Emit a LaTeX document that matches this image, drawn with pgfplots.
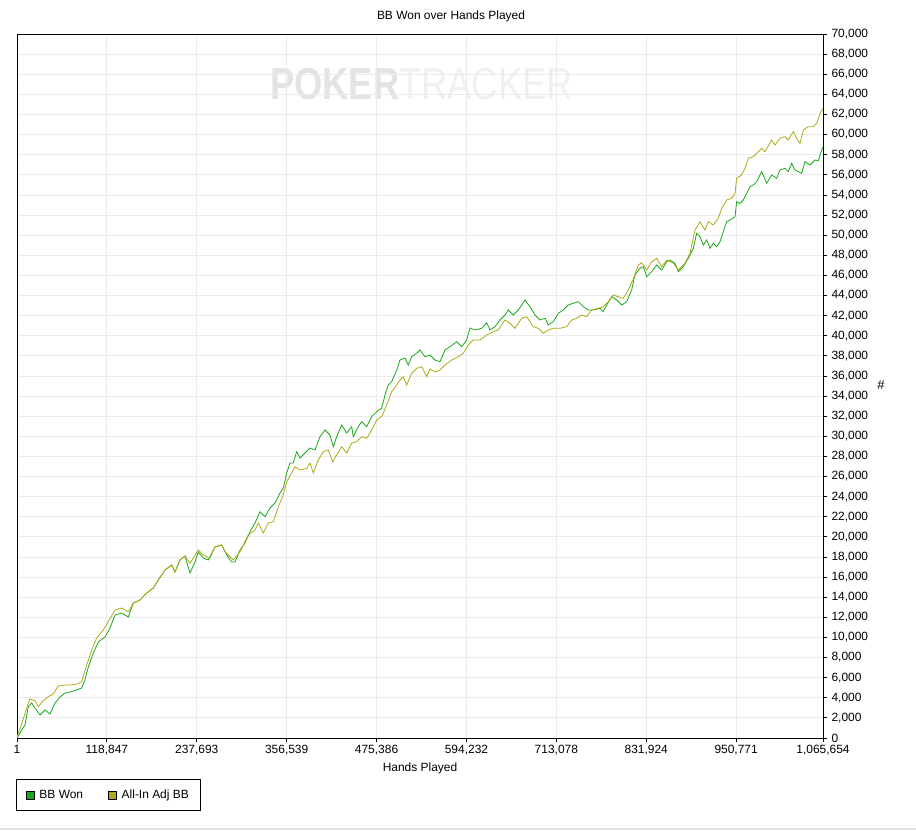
\documentclass[border=0pt]{standalone}
\usepackage{pgfplots}
\usepackage{pgfplotstable}
\pgfplotsset{compat=1.18}
\usetikzlibrary{calc}
\usepackage{fontspec}
\setmainfont{Liberation Sans}
\definecolor{bbwon}{RGB}{25,168,25}
\definecolor{allin}{RGB}{176,170,24}
\definecolor{gridc}{RGB}{235,235,235}

\pgfplotstableread{
hands bb
1 0
6214 795
10577 1293
14940 3115
19435 3480
23798 2983
30408 2287
37019 2784
43629 2386
50240 3480
56850 4077
63461 4475
70071 4574
78929 4773
85540 4972
89903 5767
94266 7060
100877 8452
107487 9545
116345 10043
122956 10937
129567 12230
138425 12429
147151 12031
153762 13423
162620 13721
171478 14417
180204 14915
186815 15710
195673 16704
204531 17201
208894 16505
215504 17699
222115 18096
228725 16406
235336 17500
239699 18494
246310 17897
252920 17699
261778 18991
270636 19190
277247 18196
283857 17500
288220 17500
294831 18693
301441 19389
308052 20512
314662 21377
321273 22501
327883 22004
334494 22869
341104 23366
347715 24360
352078 24858
356573 26349
360936 27343
365299 27343
369795 28467
374158 27840
380768 28338
387379 28835
393989 28636
400600 29958
407210 30624
413821 30127
418184 28964
422679 29958
429289 31122
435900 30326
442510 30953
444626 29958
451237 30953
455732 31450
462342 30953
468953 31947
475563 32444
482174 32812
486537 34104
490900 35101
495395 35427
502005 36590
506368 37585
512979 37784
517342 37087
521837 37913
528447 38251
532810 38579
539421 37913
546031 38082
552642 37585
559252 37416
565863 38579
572473 38907
581331 39404
587942 38907
594552 39573
598915 40766
605526 40567
614384 40737
620994 41294
625357 40567
631968 40895
638578 41562
645189 42059
649552 42556
656162 42059
662773 42556
667268 43054
671631 43550
678242 42884
684852 42059
691463 41562
698073 41731
702436 41064
709047 41393
715657 42228
722268 42556
728878 43054
735489 43222
742099 43381
748710 42884
755320 42556
761931 42556
770789 42725
775152 42388
779647 43054
786257 43879
792868 43550
799478 43054
806089 43381
812699 44545
817062 46036
823673 46703
828036 46862
832531 45868
839141 46365
845752 47030
852362 46533
858973 47359
863336 47527
869947 47199
874310 46365
880920 46862
887531 47697
894141 48691
898636 50183
902999 49845
907362 49019
911857 49516
916220 48691
920583 49188
925078 48850
929441 49347
933804 50342
938299 51336
942662 51505
949272 51833
951520 53325
955883 53165
960246 53493
964741 54160
969104 54816
973467 54985
977962 55313
984572 56307
991183 55154
997793 55980
1004404 55651
1008767 56482
1015377 56646
1019740 56308
1024235 57143
1028598 56482
1037456 56148
1041819 57302
1048430 56975
1055040 57471
1059403 57401
1063898 58465
1065654 58793
}\bbwontable

\pgfplotstableread{
hands bb
1 0
925 298
7933 1790
12824 2983
17187 3878
23798 3709
28161 3112
34772 3709
41382 4106
47993 4375
54603 5170
63461 5270
70071 5270
78929 5369
85540 5598
92151 7258
98761 8749
105372 9943
114098 10738
120709 11564
129567 12727
138425 12926
147151 12558
153762 13423
162620 13721
171478 14417
180204 14915
186815 15710
195673 16704
204531 17201
208894 16505
215504 17699
222115 18096
228725 17370
239699 18693
246310 18196
255167 17897
261778 18991
270636 19190
274999 18524
279362 18196
285973 17699
294831 18524
305804 20184
314662 20681
319025 21377
325636 20383
332246 21377
338857 21507
345467 22998
352078 24161
356573 25484
363183 26349
367546 26975
374158 26647
383015 26816
387379 27343
391742 26349
398352 27642
404963 28467
411573 28636
417390 27473
422679 28139
429289 28964
435900 28338
442510 29332
449121 29461
455732 29958
462342 29799
468953 30624
475563 31619
482174 31947
488784 33110
495395 34433
502005 35099
506368 35597
510731 35924
515226 35099
521837 36262
528447 36759
535058 36918
541668 35924
546031 36690
552642 36392
559252 36590
565863 37087
574721 37585
583447 37913
590057 38251
596668 39076
603278 39573
612136 39573
620994 40070
629720 40398
636331 40567
645189 41562
651799 41233
658410 40737
667268 41731
673878 41890
682604 40895
689215 40737
695825 40240
702436 40567
709047 40737
717905 40737
726763 40895
733373 41562
739984 41731
746594 42059
753205 41890
759815 42556
768541 42725
775152 42884
781763 43381
788373 44048
794984 43879
801594 43720
808205 44545
814815 45638
821426 47030
825921 47259
832531 46533
839141 47359
845752 47697
852362 46862
858973 47527
867700 47199
874310 46533
883167 47199
889778 48194
896388 50510
902999 51336
909609 50510
913972 51336
920583 51008
927193 51674
931688 52668
938299 53493
944909 53662
949272 54160
951520 55651
958130 55980
962493 56646
966856 57640
973467 57799
980077 58296
984572 58634
988935 58296
997793 59459
1002156 58962
1008767 59628
1015377 59787
1019740 59459
1026351 60284
1030846 59628
1035209 59131
1039572 60453
1046183 60781
1052793 60781
1057288 61120
1061651 62114
1065654 62611
}\allintable

\begin{document}
\begin{tikzpicture}[x=1bp,y=1bp]
\begin{axis}[
  set layers,
  scale only axis, width=806bp, height=704bp,
  xmin=1, xmax=1065654, ymin=0, ymax=70000,
  axis line style={black, line width=0.8bp},
  grid=major, major grid style={gridc, line width=0.8bp},
  tick align=outside, major tick length=4bp,
  tick style={black, line width=0.8bp},
  xtick pos=lower, ytick pos=right, yticklabel pos=right,
  xtick={1,118847,237693,356539,475386,594232,713078,831924,950771,1065654},
  xticklabels={1,{118,847},{237,693},{356,539},{475,386},{594,232},{713,078},{831,924},{950,771},{1,065,654}},
  ytick distance=2000,
  scaled x ticks=false, scaled y ticks=false,
  /pgf/number format/fixed,
  /pgf/number format/1000 sep={,},
  /pgf/number format/assume math mode=true,
  ticklabel style={font=\fontsize{12}{14}\selectfont},
  yticklabel style={anchor=west, xshift=1bp},
  xticklabel style={anchor=north},
  label style={font=\fontsize{12}{14}\selectfont},
  xlabel={Hands Played},
  x label style={at={(axis description cs:0.5,-0.0426)}, anchor=center},
  ylabel={\#},
  y label style={at={(axis description cs:1.072,0.501)}, anchor=center, rotate=-90, font=\fontsize{13}{15}\selectfont},
  legend columns=2,
  legend image code/.code={\filldraw[#1, draw=black, line width=0.6bp] (0bp,-4bp) rectangle (8bp,4bp);},
  legend style={at={(axis description cs:-0.00124,-0.0582)}, anchor=north west,
    draw=black, line width=0.8bp, font=\fontsize{12}{14}\selectfont,
    inner xsep=9.5bp, inner ysep=8.5bp, legend cell align=left,
    /tikz/every odd column/.append style={column sep=3bp},
    /tikz/every even column/.append style={column sep=23bp}},
]
\begin{pgfonlayer}{axis background}
\node[inner sep=0pt, xscale=0.81, font=\fontsize{45}{50}\selectfont] at (rel axis cs:0.5019,0.929)
  {\textcolor{black!11}{\bfseries POKER}\textcolor{black!6}{TRACKER}};
\end{pgfonlayer}
\coordinate (O) at (rel axis cs:0,0);
\addplot[color=bbwon, line width=0.8bp, mark=none] table[x=hands, y=bb] {\bbwontable};
\addlegendentry{BB Won}
\addplot[color=allin, line width=0.8bp, mark=none] table[x=hands, y=bb] {\allintable};
\addlegendentry{All-In Adj BB}
\end{axis}
\pgfresetboundingbox
\path[use as bounding box] ($(O)+(-17,-94)$) rectangle ($(O)+(899,738)$);
\fill[black!11] ($(O)+(-17,-92)$) rectangle ($(O)+(899,-90)$);
\node[font=\fontsize{12}{14}\selectfont] at ($(O)+(434,722)$) {BB Won over Hands Played};
\end{tikzpicture}
\end{document}
